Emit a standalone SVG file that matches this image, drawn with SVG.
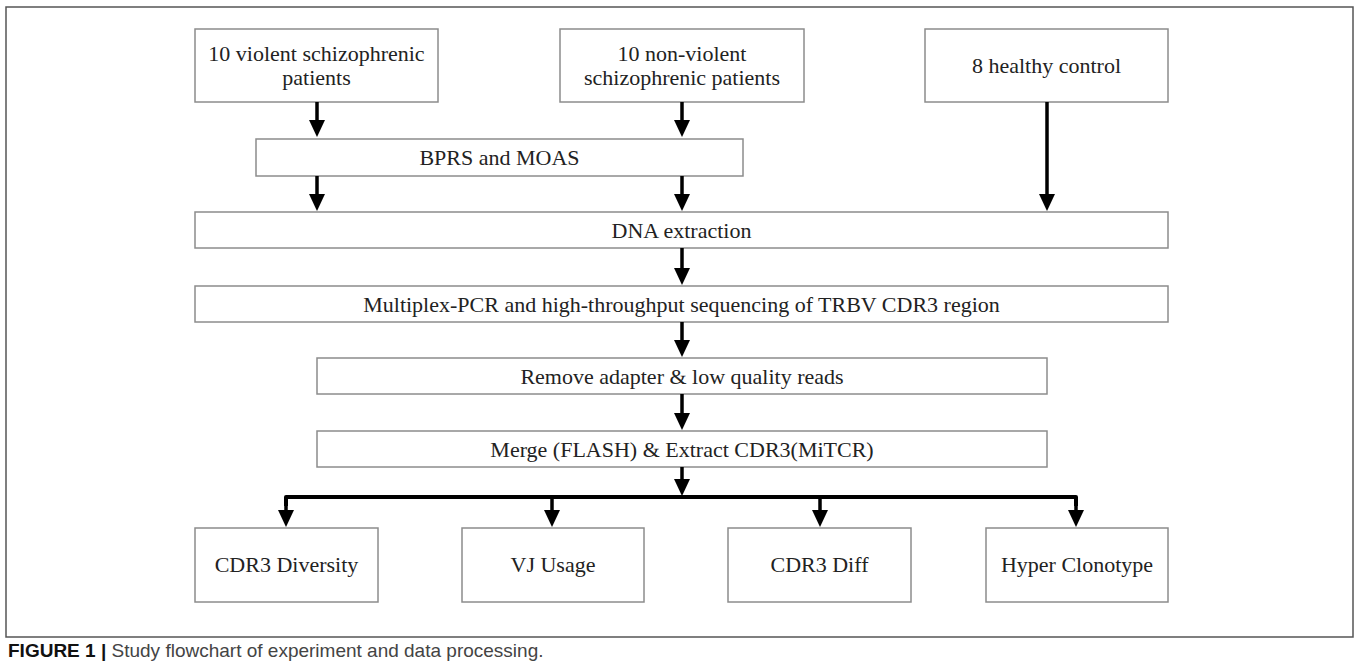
<svg xmlns="http://www.w3.org/2000/svg" width="1360" height="670" viewBox="0 0 1360 670">
  <style>
    .box { fill: #ffffff; stroke: #8c8c8c; stroke-width: 1.5; }
    .lbl { font-family: "Liberation Serif", "Times New Roman", serif; font-size: 22px; fill: #222222; text-anchor: middle; }
    .conn { stroke: #000000; stroke-width: 3.5; fill: none; }
    .bus { stroke: #000000; stroke-width: 4; fill: none; stroke-linejoin: round; }
    .cap { font-family: "Liberation Sans", Arial, sans-serif; font-size: 19px; fill: #444444; }
  </style>
  <defs>
    <marker id="ah" markerUnits="userSpaceOnUse" viewBox="0 0 17 16" markerWidth="17" markerHeight="16" refX="7" refY="8" orient="auto">
      <path d="M0,0 L17,8 L0,16 Z" fill="#000000"/>
    </marker>
  </defs>
  <rect x="0" y="0" width="1360" height="670" fill="#ffffff"/>
  <rect x="6" y="7" width="1347" height="630" fill="none" stroke="#555555" stroke-width="1.5"/>

  <g id="n-violent">
    <rect class="box" x="195" y="29" width="243" height="73"/>
    <text class="lbl" x="316.5" y="61">10 violent schizophrenic</text>
    <text class="lbl" x="316.5" y="85">patients</text>
  </g>
  <g id="n-nonviolent">
    <rect class="box" x="560" y="29" width="244" height="73"/>
    <text class="lbl" x="682" y="61">10 non-violent</text>
    <text class="lbl" x="682" y="85">schizophrenic patients</text>
  </g>
  <g id="n-healthy">
    <rect class="box" x="925" y="29" width="243" height="73"/>
    <text class="lbl" x="1046.5" y="73">8 healthy control</text>
  </g>
  <g id="n-bprs">
    <rect class="box" x="256" y="139" width="487" height="37"/>
    <text class="lbl" x="499.5" y="165">BPRS and MOAS</text>
  </g>
  <g id="n-dna">
    <rect class="box" x="195" y="212" width="973" height="36"/>
    <text class="lbl" x="681.5" y="238">DNA extraction</text>
  </g>
  <g id="n-pcr">
    <rect class="box" x="195" y="286" width="973" height="36"/>
    <text class="lbl" x="681.5" y="312">Multiplex-PCR and high-throughput sequencing of TRBV CDR3 region</text>
  </g>
  <g id="n-remove">
    <rect class="box" x="317" y="358" width="730" height="36"/>
    <text class="lbl" x="682" y="384">Remove adapter &amp; low quality reads</text>
  </g>
  <g id="n-merge">
    <rect class="box" x="317" y="431" width="730" height="36"/>
    <text class="lbl" x="682" y="457">Merge (FLASH) &amp; Extract CDR3(MiTCR)</text>
  </g>
  <g id="n-diversity">
    <rect class="box" x="195" y="528" width="183" height="74"/>
    <text class="lbl" x="286.5" y="572">CDR3 Diversity</text>
  </g>
  <g id="n-vj">
    <rect class="box" x="462" y="528" width="182" height="74"/>
    <text class="lbl" x="553" y="572">VJ Usage</text>
  </g>
  <g id="n-diff">
    <rect class="box" x="728" y="528" width="183" height="74"/>
    <text class="lbl" x="819.5" y="572">CDR3 Diff</text>
  </g>
  <g id="n-hyper">
    <rect class="box" x="986" y="528" width="182" height="74"/>
    <text class="lbl" x="1077" y="572">Hyper Clonotype</text>
  </g>

  <g id="connectors">
    <path class="conn" d="M317,102 V127" marker-end="url(#ah)"/>
    <path class="conn" d="M682,102 V127" marker-end="url(#ah)"/>
    <path class="conn" d="M317,176 V201" marker-end="url(#ah)"/>
    <path class="conn" d="M682,176 V201" marker-end="url(#ah)"/>
    <path class="conn" d="M1047,102 V201" marker-end="url(#ah)"/>
    <path class="conn" d="M682,248 V275" marker-end="url(#ah)"/>
    <path class="conn" d="M682,322 V347" marker-end="url(#ah)"/>
    <path class="conn" d="M682,394 V420" marker-end="url(#ah)"/>
    <path class="conn" d="M682,467 V486" marker-end="url(#ah)"/>
    <path class="bus" d="M286,506 V497 H1076 V506"/>
    <path class="conn" d="M286,497 V517" marker-end="url(#ah)"/>
    <path class="conn" d="M552,497 V517" marker-end="url(#ah)"/>
    <path class="conn" d="M820,497 V517" marker-end="url(#ah)"/>
    <path class="conn" d="M1076,497 V517" marker-end="url(#ah)"/>
  </g>

  <text class="cap" x="8" y="657"><tspan font-weight="bold" fill="#111111">FIGURE 1 |</tspan> Study flowchart of experiment and data processing.</text>
</svg>
